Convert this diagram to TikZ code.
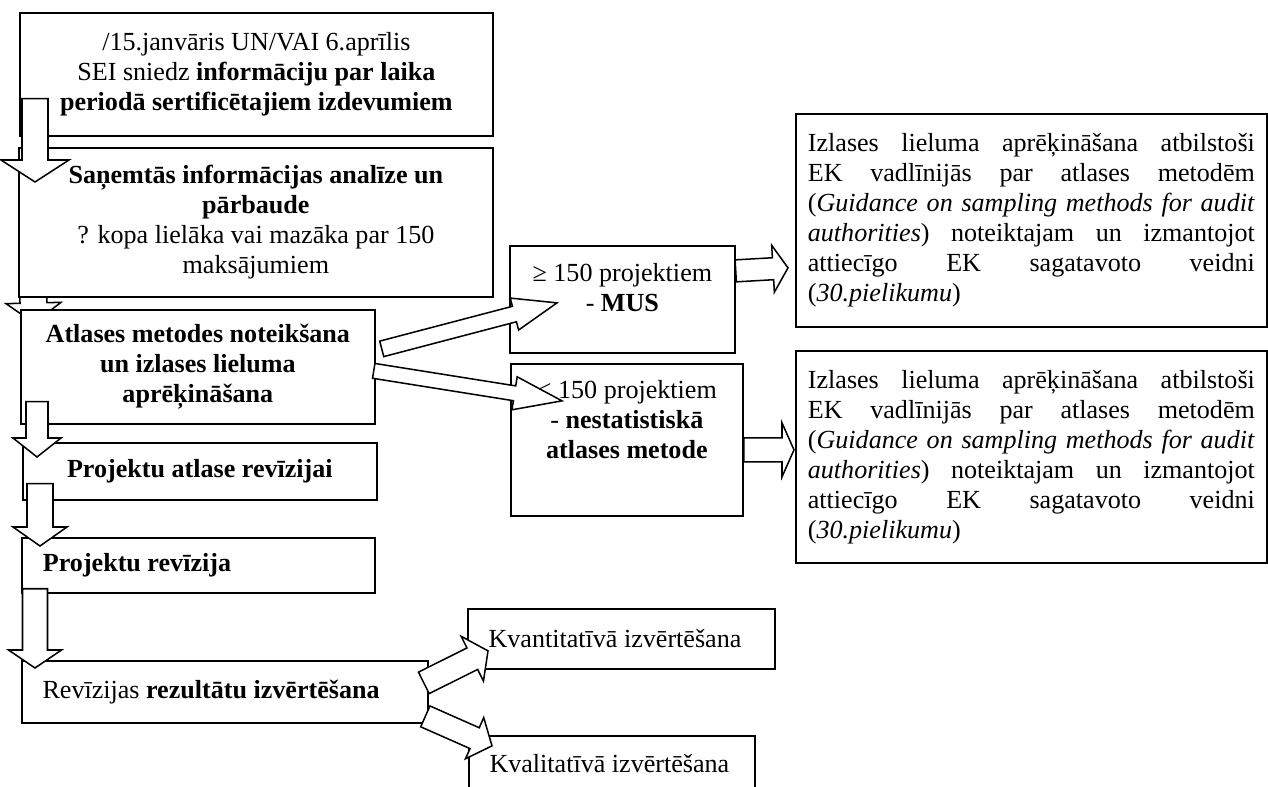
\documentclass[tikz,border=0pt]{standalone}
\usepackage{fontspec}
\setmainfont{Liberation Serif}
\usetikzlibrary{calc,backgrounds}
\def\pxu{0.46pt}

\tikzset{
  box/.style={draw, fill=white, line width=0.8pt, anchor=north west, inner xsep=0pt, inner ysep=0pt,
    align=flush center, font=\fontsize{12}{13.8}\selectfont},
  leftbox/.style={box, align=flush left, inner xsep=9.5pt},
  blockarrow/.style n args={3}{draw, fill=white, line width=0.7pt, to path={
    let \p1=(\tikztostart), \p2=(\tikztotarget), \n1={atan2(\y2-\y1,\x2-\x1)}, \n2={veclen(\x2-\x1,\y2-\y1)} in
    ($(\p1)+(\n1+90:#1)$) -- ($(\p1)+(\n1:\n2-#3)+(\n1+90:#1)$) -- ($(\p1)+(\n1:\n2-#3)+(\n1+90:#2)$) -- (\p2)
    -- ($(\p1)+(\n1:\n2-#3)+(\n1-90:#2)$) -- ($(\p1)+(\n1:\n2-#3)+(\n1-90:#1)$) -- ($(\p1)+(\n1-90:#1)$) -- cycle}}
}

\begin{document}
\begin{tikzpicture}[x=0.46pt, y=-0.46pt]
\useasboundingbox (0,0) rectangle (1268,787);
\clip (0,0) rectangle (1268,787);

% main column
\node[box, minimum width=473*\pxu, minimum height=123*\pxu, text width=202pt] (sei) at (19,12)
  {/15.janvāris UN/VAI 6.aprīlis\\ SEI sniedz \textbf{informāciju par laika}\\ \textbf{periodā sertificētajiem izdevumiem}};
\node[box, minimum width=474*\pxu, minimum height=149*\pxu, text width=202pt] (analize) at (18,147)
  {\textbf{Saņemtās informācijas analīze un}\\ \textbf{pārbaude}\\ ? kopa lielāka vai mazāka par 150\\ maksājumiem};
\node[box, minimum width=354*\pxu, minimum height=114*\pxu, text width=158pt] (metode) at (20,309)
  {\textbf{Atlases metodes noteikšana}\\ \textbf{un izlases lieluma}\\ \textbf{aprēķināšana}};
\node[box, minimum width=354*\pxu, minimum height=57*\pxu, text width=156pt] (atlase) at (22,442)
  {\textbf{Projektu atlase revīzijai}};
\node[leftbox, minimum width=353*\pxu, minimum height=55*\pxu, text width=143pt] (revizija) at (21,537)
  {\textbf{Projektu revīzija}};
\node[leftbox, minimum width=406*\pxu, minimum height=62*\pxu, text width=167.8pt] (rezultati) at (21,660)
  {Revīzijas \textbf{rezultātu izvērtēšana}};

% sampling methods
\node[box, minimum width=225*\pxu, minimum height=107*\pxu, text width=96pt] (mus) at (509,245)
  {≥ 150 projektiem\\ - \textbf{MUS}\rule[-11pt]{0pt}{0pt}};
\node[box, minimum width=232*\pxu, minimum height=152*\pxu, text width=101pt] (nestat) at (510,363)
  {< 150 projektiem\\ - \textbf{nestatistiskā}\\ \textbf{atlases metode}\rule[-19pt]{0pt}{0pt}};
\node[box, align=justify, minimum width=471*\pxu, minimum height=213*\pxu, text width=205.6pt] (aprekins1) at (795,113)
  {Izlases lieluma aprēķināšana atbilstoši\linebreak EK vadlīnijās par atlases metodēm\linebreak
   (\textit{Guidance on sampling methods for audit}\linebreak \textit{authorities}) noteiktajam un izmantojot\linebreak
   attiecīgo EK sagatavoto veidni\linebreak (\textit{30.pielikumu})};
\node[box, align=justify, minimum width=471*\pxu, minimum height=212*\pxu, text width=205.6pt] (aprekins2) at (795,350)
  {Izlases lieluma aprēķināšana atbilstoši\linebreak EK vadlīnijās par atlases metodēm\linebreak
   (\textit{Guidance on sampling methods for audit}\linebreak \textit{authorities}) noteiktajam un izmantojot\linebreak
   attiecīgo EK sagatavoto veidni\linebreak (\textit{30.pielikumu})};

% evaluation
\node[leftbox, minimum width=307*\pxu, minimum height=60*\pxu, text width=122.2pt] (kvant) at (467,608)
  {Kvantitatīvā izvērtēšana};
\node[leftbox, minimum width=286*\pxu, minimum height=56*\pxu, text width=112.6pt] (kval) at (468,735)
  {Kvalitatīvā izvērtēšana};

\begin{scope}[on background layer]
  \draw[blockarrow={13.5*\pxu}{27.5*\pxu}{20*\pxu}] ($(analize.south west)+(15,-16)$) to ($(metode.north west)+(14,14)$);
\end{scope}

\draw[blockarrow={13*\pxu}{34*\pxu}{22*\pxu}] ($(sei.south west)+(16,-38)$) to ($(analize.north west)+(17,35)$);
\draw[blockarrow={11*\pxu}{24*\pxu}{19*\pxu}] ($(metode.south west)+(17,-23)$) to ($(atlase.north west)+(15,15)$);
\draw[blockarrow={13*\pxu}{27*\pxu}{19*\pxu}] ($(atlase.south west)+(18,-17)$) to ($(revizija.north west)+(19,9)$);
\draw[blockarrow={12.5*\pxu}{26.5*\pxu}{18*\pxu}] ($(revizija.south west)+(14,-5)$) to ($(rezultati.north west)+(14,8)$);

\draw[blockarrow={8*\pxu}{16.5*\pxu}{44*\pxu}] ($(metode.east)+(6,-18)$) to ($(mus.west)+(48,3.5)$);
\draw[blockarrow={7.5*\pxu}{16.7*\pxu}{48*\pxu}] ($(metode.east)+(-2,4)$) to ($(nestat.west)+(52,-39)$);
\draw[blockarrow={11*\pxu}{23.5*\pxu}{15*\pxu}] ($(mus.east)+(0,-28.5)$) to ($(aprekins1.west)+(-7,47.5)$);
\draw[blockarrow={12*\pxu}{27*\pxu}{12*\pxu}] ($(nestat.east)+(0,10)$) to ($(aprekins2.west)+(-1,-7)$);

\draw[blockarrow={12*\pxu}{25*\pxu}{17.5*\pxu}] ($(rezultati.east)+(-5,-9)$) to ($(kvant.west)+(21,12)$);
\draw[blockarrow={11.4*\pxu}{22.5*\pxu}{19*\pxu}] ($(rezultati.east)+(-3.5,24.5)$) to ($(kval.west)+(24,-18)$);
\end{tikzpicture}
\end{document}
